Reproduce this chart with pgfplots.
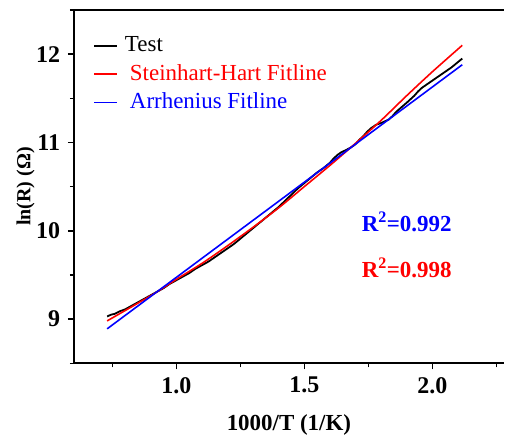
\documentclass[border=0pt]{standalone}
\usepackage{fontspec}
\setmainfont{Liberation Serif}
\usepackage{pgfplots}
\pgfplotsset{compat=1.18}
\begin{document}
\fontsize{23}{27}\selectfont
\begin{tikzpicture}
\begin{axis}[
  scale only axis, width=431pt, height=354pt,
  xmin=0.6, xmax=2.28, ymin=8.5, ymax=12.5,
  axis lines*=left,
  axis line style={line width=2pt},
  xtick={1.0,1.5,2.0}, minor xtick={0.75,1.25,1.75,2.25},
  ytick={9,10,11,12}, minor ytick={8.5,9.5,10.5,11.5,12.5},
  tick align=outside,
  major tick length=6pt, minor tick length=4pt,
  tick style={line width=1.5pt, black},
  /pgf/number format/assume math mode=true,
  ticklabel style={font=\fontsize{24}{28}\selectfont\bfseries},
  x tick label style={/pgf/number format/.cd, fixed, fixed zerofill, precision=1},
  xlabel={\textbf{1000/T (1/K)}},
  ylabel={\textbf{ln(R) (Ω)}},
  xlabel style={font=\fontsize{23}{27}\selectfont, yshift=-6pt},
  ylabel style={font=\fontsize{20}{24}\selectfont, yshift=-14pt},
  legend style={at={(rel axis cs:0.045,0.93)}, anchor=north west, draw=none, fill=none,
    font=\fontsize{23}{27}\selectfont, row sep=5pt, inner sep=0pt},
  legend cell align=left,
  legend image code/.code={\draw[#1, line width=1.6pt] (0pt,0pt) -- (23pt,0pt);},
]
\addplot[black, line width=1.8pt] coordinates {
(0.730,9.03) (0.745,9.05) (0.760,9.06) (0.780,9.09) (0.800,9.11) (0.825,9.15)
(0.850,9.19) (0.875,9.23) (0.900,9.27) (0.925,9.31) (0.950,9.35) (0.975,9.40)
(1.000,9.44) (1.025,9.48) (1.050,9.52) (1.075,9.57) (1.100,9.61) (1.125,9.65)
(1.150,9.70) (1.175,9.75) (1.200,9.80) (1.225,9.85) (1.250,9.91) (1.275,9.97)
(1.300,10.03) (1.325,10.09) (1.350,10.15) (1.375,10.21) (1.400,10.27) (1.425,10.34)
(1.450,10.41) (1.475,10.48) (1.500,10.54) (1.525,10.60) (1.550,10.66) (1.575,10.71)
(1.600,10.77) (1.615,10.82) (1.630,10.86) (1.645,10.89) (1.660,10.91) (1.680,10.94)
(1.700,10.98) (1.715,11.03) (1.730,11.07) (1.745,11.12) (1.760,11.16) (1.780,11.20)
(1.800,11.22) (1.815,11.24) (1.830,11.26) (1.845,11.30) (1.860,11.35) (1.880,11.40)
(1.900,11.45) (1.915,11.49) (1.930,11.53) (1.945,11.58) (1.960,11.62) (1.980,11.66)
(2.000,11.70) (2.025,11.75) (2.050,11.80) (2.075,11.85) (2.100,11.91) (2.117,11.95)
};
\addlegendentry{\hspace{5pt}Test}
\addplot[red, line width=1.6pt, smooth] coordinates {
(0.730,8.98) (0.820,9.13) (0.920,9.30) (1.000,9.45) (1.100,9.63) (1.200,9.83)
(1.300,10.04) (1.400,10.26) (1.500,10.50) (1.600,10.74) (1.700,10.99)
(1.800,11.25) (1.900,11.53) (2.000,11.80) (2.117,12.10)
};
\addlegendentry{\hspace{10pt}\textcolor{red}{Steinhart-Hart Fitline}}
\addplot[blue, line width=1.6pt] coordinates {
(0.730,8.89) (2.117,11.88)
};
\addlegendentry{\hspace{10pt}\textcolor{blue}{Arrhenius Fitline}}
\draw[line width=2pt] (rel axis cs:0,1) -- (rel axis cs:1,1);
\node[blue, font=\fontsize{23}{27}\selectfont\bfseries] at (axis cs:1.90,10.10) {R\textsuperscript{2}=0.992};
\node[red, font=\fontsize{23}{27}\selectfont\bfseries] at (axis cs:1.90,9.58) {R\textsuperscript{2}=0.998};
\end{axis}
\path (current axis.south west) ++(-74pt,-75pt) coordinate (a);
\path (current axis.north east) ++(0pt,10pt) coordinate (b);
\path (a) rectangle (b);
\end{tikzpicture}
\end{document}
